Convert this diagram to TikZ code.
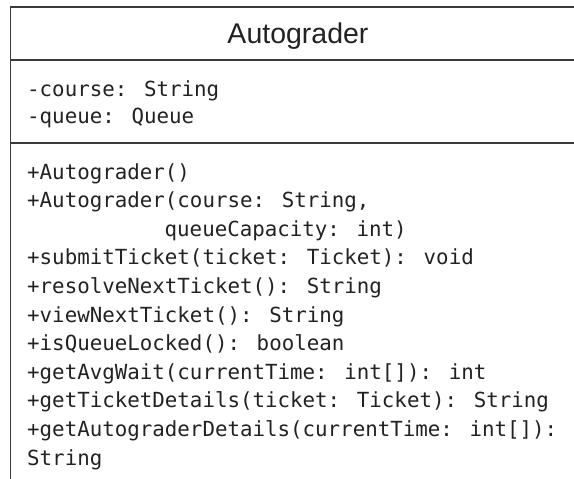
\documentclass[tikz,border=0pt]{standalone}
\usepackage{fontspec}
\setmainfont{Liberation Sans}
\newfontfamily\monofam{DejaVu Sans Mono}
\definecolor{linecol}{HTML}{3A3A3A}
\definecolor{txtcol}{HTML}{222222}
\begin{document}
\begin{tikzpicture}[x=1pt,y=-1pt,
  boxline/.style={draw=linecol,line width=1.4pt},
  title/.style={inner sep=0pt,anchor=base,text=txtcol,font=\fontsize{28.5}{34}\selectfont},
  member/.style={inner sep=0pt,anchor=base west,text=txtcol,font=\monofam\fontsize{20.8}{25}\selectfont}]
\useasboundingbox (0,0) rectangle (574,479);
\clip (0,0) rectangle (574,479);
\fill[white] (0,0) rectangle (574,479);
% class box
\coordinate (tl) at (10.5,7);
\coordinate (br) at (588,495);
\draw[boxline] (tl) rectangle (br);
\coordinate (d1l) at (10.5,60);
\coordinate (d1r) at (588,60);
\coordinate (d2l) at (10.5,143);
\coordinate (d2r) at (588,143);
\draw[boxline] (d1l) -- (d1r);
\draw[boxline] (d2l) -- (d2r);
% title
\node[title] (name) at (298,43) {Autograder};
% attributes
\node[member] (a1) at (27,96.5) {-course: String};
\node[member] (a2) at (27,123.5) {-queue: Queue};
% methods
\node[member] (m1)  at (27,179)   {+Autograder()};
\node[member] (m2)  at (27,207.6) {+Autograder(course: String,};
\node[member] (m3)  at (164.5,236.2) {queueCapacity: int)};
\node[member] (m4)  at (27,264.8) {+submitTicket(ticket: Ticket): void};
\node[member] (m5)  at (27,293.4) {+resolveNextTicket(): String};
\node[member] (m6)  at (27,322)   {+viewNextTicket(): String};
\node[member] (m7)  at (27,350.6) {+isQueueLocked(): boolean};
\node[member] (m8)  at (27,379.2) {+getAvgWait(currentTime: int[]): int};
\node[member] (m9)  at (27,407.8) {+getTicketDetails(ticket: Ticket): String};
\node[member] (m10) at (27,436.4) {+getAutograderDetails(currentTime: int[]):};
\node[member] (m11) at (27,465)   {String};
\end{tikzpicture}
\end{document}
